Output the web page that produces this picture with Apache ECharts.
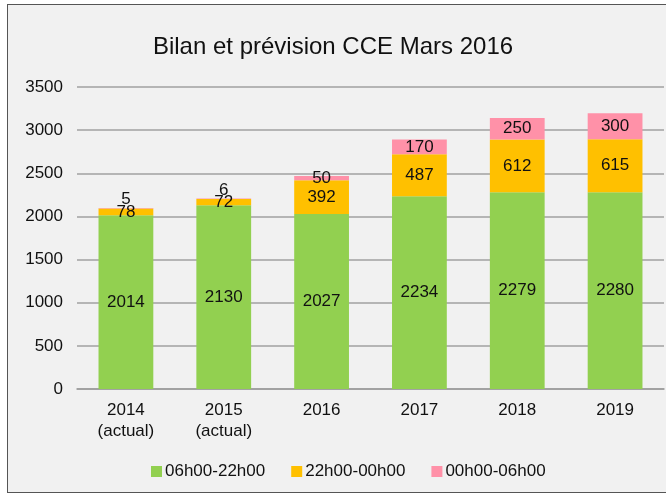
<!DOCTYPE html>
<html>
<head>
<meta charset="utf-8">
<script src="https://cdn.jsdelivr.net/npm/echarts@6/dist/echarts.min.js"></script>
<style>
  html, body { margin: 0; padding: 0; background: #fff; overflow: hidden; }
  #frame { position: absolute; left: 7px; top: 4px; width: 680px; height: 487px;
           border: 1px solid #555; background: #f1f1f1; }
  #chart { position: absolute; left: 0; top: 0; width: 666px; height: 495px; }
</style>
</head>
<body>
<div id="frame"></div>
<div id="chart"></div>
<script>
  var categories = ['2014\n(actual)', '2015\n(actual)', '2016', '2017', '2018', '2019'];
  var dayValues = [2014, 2130, 2027, 2234, 2279, 2280];     // 06h00-22h00
  var eveningValues = [78, 72, 392, 487, 612, 615];         // 22h00-00h00
  var nightValues = [5, 6, 50, 170, 250, 300];              // 00h00-06h00
  var seriesNames = ['06h00-22h00', '22h00-00h00', '00h00-06h00'];

  var chart = echarts.init(document.getElementById('chart'));
  var fontFam = 'Liberation Sans, Arial, sans-serif';
  var labelFont = { color: '#111', fontSize: 17, fontFamily: fontFam };

  // petites valeurs : étiquette au-dessus de la barre
  var nightData = nightValues.map(function (v) {
    if (v < 20) return { value: v, label: { position: 'top', distance: 0 } };
    return v;
  });

  var option = {
    animation: false,
    backgroundColor: 'transparent',
    title: {
      text: 'Bilan et prévision CCE Mars 2016',
      left: 'center', top: 30,
      textStyle: { fontSize: 24, fontWeight: 'normal', color: '#111', fontFamily: fontFam }
    },
    legend: {
      top: 458, left: 146,
      itemWidth: 11, itemHeight: 11, itemGap: 26,
      icon: 'rect',
      textStyle: { fontSize: 17, color: '#111', fontFamily: fontFam, padding: [0, 0, 0, -2] },
      data: seriesNames
    },
    grid: { left: 77, right: 2, top: 87, bottom: 106 },
    xAxis: {
      type: 'category',
      data: categories,
      axisTick: { show: false },
      axisLine: { lineStyle: { color: '#9a9a9a', width: 1.5 } },
      axisLabel: { color: '#111', fontSize: 17, margin: 11, lineHeight: 21, fontFamily: fontFam }
    },
    yAxis: {
      type: 'value',
      min: 0, max: 3500, interval: 500,
      axisLine: { show: false },
      axisTick: { show: false },
      splitLine: { lineStyle: { color: '#a0a0a0', width: 1.5 } },
      axisLabel: { color: '#111', fontSize: 17, margin: 14, fontFamily: fontFam,
                   formatter: function (v) { return String(v); } }
    },
    series: [
      {
        name: seriesNames[0], type: 'bar', stack: 'total', barWidth: '56%',
        itemStyle: { color: '#92d050' },
        label: Object.assign({ show: true, position: 'inside' }, labelFont),
        data: dayValues
      },
      {
        name: seriesNames[1], type: 'bar', stack: 'total',
        itemStyle: { color: '#ffc000' },
        label: Object.assign({ show: true, position: 'inside' }, labelFont),
        data: eveningValues
      },
      {
        name: seriesNames[2], type: 'bar', stack: 'total',
        itemStyle: { color: '#ff91a8' },
        label: Object.assign({ show: true, position: 'inside' }, labelFont),
        data: nightData
      }
    ]
  };
  chart.setOption(option);
  window.onresize = function () { chart.resize(); };
</script>
</body>
</html>
